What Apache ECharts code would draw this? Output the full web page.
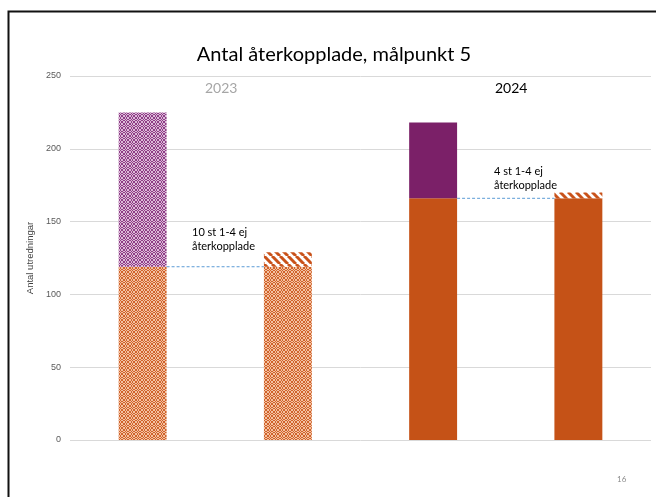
<!DOCTYPE html>
<html>
<head>
<meta charset="utf-8">
<script src="https://cdn.jsdelivr.net/npm/echarts@6/dist/echarts.min.js"></script>
<style>
html,body{margin:0;padding:0;background:#fff;}
#chart{width:656px;height:497px;}
</style>
</head>
<body>
<div id="chart"></div>
<script>
// ---- data ----
var categories = ['2023 alla', '2023 1-4', '2024 alla', '2024 1-4'];
var baseValues = [119, 119, 166, 166];      // återkopplade (lower, orange)
var totalValues = [225, 129, 218, 170];     // bar totals
var topValues = totalValues.map(function (t, i) { return t - baseValues[i]; });
var dashLevels = [[0, 119], [2, 166]];      // dashed connector (category index, level)
var yTicks = [0, 50, 100, 150, 200, 250];

// ---- patterns ----
function checker(dark, light) {
  var s = 6;
  var cv = document.createElement('canvas');
  cv.width = s; cv.height = s;
  var ctx = cv.getContext('2d');
  for (var y = 0; y < s; y++) for (var x = 0; x < s; x++) {
    var bx = Math.floor(x / 2), by = Math.floor(y / 2);
    var on = ((bx + by) % 2 === 0);
    if ((x + y) % 2 === 1) on = !on;
    ctx.fillStyle = on ? dark : light;
    ctx.fillRect(x, y, 1, 1);
  }
  return { image: cv, repeat: 'repeat' };
}
function hatch(col) {
  var s = 8;
  var cv = document.createElement('canvas');
  cv.width = s; cv.height = s;
  var ctx = cv.getContext('2d');
  ctx.fillStyle = '#fff'; ctx.fillRect(0, 0, s, s);
  ctx.strokeStyle = col; ctx.lineWidth = 3;
  for (var k = -1; k <= 1; k++) {
    ctx.beginPath();
    ctx.moveTo(k * s, 0); ctx.lineTo(k * s + s, s);
    ctx.stroke();
  }
  return { image: cv, repeat: 'repeat' };
}
var orangeSolid = '#c55217';
var purpleSolid = '#7b2068';
var orangePat = checker('#d0622a', '#f3c2a2');
var purplePat = checker('#8e3d86', '#dcbbd9');
var hatchPat = hatch('#c9521a');

var baseColors = [orangePat, orangePat, orangeSolid, orangeSolid];
var topColors = [purplePat, hatchPat, purpleSolid, hatchPat];

var chart = echarts.init(document.getElementById('chart'));
var txtFont = 'Lato, "Open Sans", sans-serif';
chart.setOption({
  animation: false,
  backgroundColor: '#fff',
  grid: { left: 70, right: 5, top: 76, bottom: 57 },
  xAxis: {
    type: 'category', data: categories,
    axisLine: { show: false }, axisTick: { show: false }, axisLabel: { show: false }
  },
  yAxis: {
    type: 'value', min: 0, max: 250, interval: 50,
    name: 'Antal utredningar', nameLocation: 'middle', nameGap: 29, nameRotate: 90,
    nameTextStyle: { fontSize: 9.5, color: '#404040', fontFamily: 'Liberation Sans, Arial, sans-serif' },
    axisLabel: { fontSize: 9, color: '#595959', margin: 9, fontFamily: 'Liberation Sans, Arial, sans-serif' },
    splitLine: { lineStyle: { color: '#d9d9d9', width: 1 } },
    axisLine: { show: false }, axisTick: { show: false }
  },
  series: [
    {
      type: 'bar', stack: 's', barWidth: '33%',
      data: baseValues.map(function (v, i) { return { value: v, itemStyle: { color: baseColors[i] } }; })
    },
    {
      type: 'bar', stack: 's', barWidth: '33%',
      data: topValues.map(function (v, i) { return { value: v, itemStyle: { color: topColors[i] } }; })
    },
    {
      type: 'custom',
      data: dashLevels,
      z: 5,
      renderItem: function (params, api) {
        var i = api.value(0), v = api.value(1);
        var p = api.coord([i, v]);
        var q = api.coord([i + 1, v]);
        var half = api.size([1, 0])[0] * 0.33 / 2;
        return {
          type: 'line',
          shape: { x1: p[0] + half, y1: p[1], x2: q[0] - half, y2: q[1] },
          style: { stroke: '#5b9bd5', lineWidth: 1, lineDash: [3, 2] }
        };
      }
    }
  ],
  graphic: [
    { type: 'rect', shape: { x: 8.5, y: 11.5, width: 700, height: 600 },
      style: { fill: 'none', stroke: '#111', lineWidth: 2 }, silent: true, z: 100 },
    { type: 'text', x: 334, y: 45,
      style: { text: 'Antal återkopplade, målpunkt 5', font: '20px ' + txtFont, fill: '#000', textAlign: 'center' } },
    { type: 'text', x: 205, y: 81,
      style: { text: '2023', font: '14px ' + txtFont, fill: '#a6a6a6' } },
    { type: 'text', x: 495, y: 81,
      style: { text: '2024', font: '14px ' + txtFont, fill: '#000' } },
    { type: 'text', x: 192, y: 225,
      style: { text: '10 st 1-4 ej\nåterkopplade', font: '11px ' + txtFont, fill: '#000', lineHeight: 14 } },
    { type: 'text', x: 494, y: 164,
      style: { text: '4 st 1-4 ej\nåterkopplade', font: '11px ' + txtFont, fill: '#000', lineHeight: 14 } },
    { type: 'text', x: 617, y: 475,
      style: { text: '16', font: '8px ' + txtFont, fill: '#8c8c8c' } }
  ]
});
</script>
</body>
</html>
